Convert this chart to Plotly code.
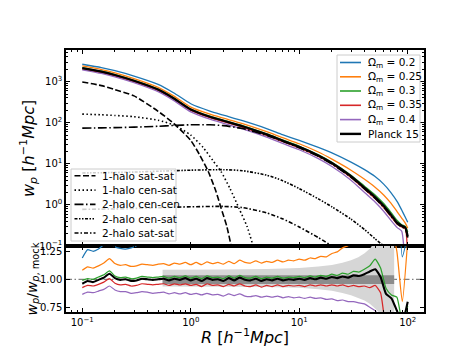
import plotly.graph_objects as go

# ---------------- data: top panel ----------------
R_top = [0.1, 0.15, 0.2, 0.3, 0.5, 0.7, 1.0, 1.5, 2.0, 3.0, 5.0, 7.0, 10, 15, 20, 30, 40, 50, 60, 70, 80, 88, 95, 100]
wp_om020 = [2650, 2200, 1850, 1370, 860, 530, 290, 192, 153, 112, 72, 51.5, 37, 25, 18.5, 11, 7.2, 4.9, 3.2, 2.0, 1.2, 0.75, 0.5, 0.38]
wp_om025 = [2410, 1970, 1640, 1190, 728, 445, 240, 161, 129, 95, 60.5, 43.2, 30.8, 19.4, 13, 7.0, 4.2, 2.7, 1.75, 1.1, 0.68, 0.48, 0.36, 0.27]
wp_om030 = [2200, 1790, 1485, 1075, 655, 400, 216, 144, 115, 84.5, 53.5, 38.2, 26.8, 16.5, 10.9, 5.3, 2.85, 1.75, 1.08, 0.66, 0.42, 0.33, 0.30, 0.22]
wp_om035 = [2060, 1670, 1385, 1000, 610, 372, 200, 133, 106, 77.5, 49, 35, 24.5, 15.1, 9.9, 4.65, 2.4, 1.42, 0.86, 0.52, 0.34, 0.29, 0.26, 0.04]
wp_om040 = [1940, 1580, 1310, 945, 570, 345, 184, 122, 97, 70.5, 44.5, 31.5, 22, 13.4, 8.6, 4.0, 2.0, 1.18, 0.70, 0.42, 0.28, 0.23, 0.04, 0.03]
wp_planck = [2140, 1750, 1450, 1050, 640, 390, 210, 140, 112, 82, 52, 37, 26, 16, 10.5, 5.0, 2.6, 1.55, 0.95, 0.58, 0.37, 0.31, 0.28, 0.17]

R_1h_ss = [0.1, 0.15, 0.2, 0.3, 0.5, 0.7, 1.0, 1.2, 1.45, 1.7, 1.9, 2.15, 2.4]
wp_1h_ss = [980, 800, 640, 450, 190, 95, 37, 17, 6.5, 2.2, 0.85, 0.3, 0.08]
R_1h_cs = [0.1, 0.15, 0.2, 0.3, 0.5, 0.7, 1.0, 1.3, 1.6, 1.9, 2.3, 2.8, 3.3, 3.8]
wp_1h_cs = [162, 156, 150, 140, 115, 88, 50, 25, 12, 6.5, 2.5, 0.8, 0.3, 0.09]
wp_2h_cc = [74, 75, 76, 78, 82, 86, 89, 89, 85, 72, 49, 35.5, 24.5, 15.2, 9.9, 4.7, 2.45, 1.45, 0.88, 0.54, 0.35, 0.29, 0.26, 0.16]
R_2h_cs = [0.1, 0.2, 0.3, 0.5, 1.0, 2.0, 3.0, 5.0, 7.0, 10, 15, 20, 30, 40, 50, 60, 70]
wp_2h_cs = [6.0, 6.15, 6.3, 6.6, 7.0, 7.2, 6.8, 5.3, 3.9, 2.5, 1.4, 0.9, 0.45, 0.25, 0.15, 0.1, 0.065]
R_2h_ss = [0.1, 0.2, 0.3, 0.5, 1.0, 2.0, 3.0, 5.0, 7.0, 10, 15, 20, 25]
wp_2h_ss = [0.78, 0.80, 0.82, 0.86, 0.90, 0.92, 0.86, 0.64, 0.46, 0.29, 0.16, 0.10, 0.065]

# ---------------- data: ratio panel ----------------
R_ratio = [0.100, 0.112, 0.126, 0.141, 0.158, 0.178, 0.200, 0.224, 0.251, 0.282,
           0.316, 0.355, 0.398, 0.447, 0.501, 0.562, 0.631, 0.708, 0.794, 0.891,
           1.00, 1.12, 1.26, 1.41, 1.58, 1.78, 2.00, 2.24, 2.51, 2.82,
           3.16, 3.55, 3.98, 4.47, 5.01, 5.62, 6.31, 7.08, 7.94, 8.91,
           10.0, 11.2, 12.6, 14.1, 15.8, 17.8, 20.0, 22.4, 25.1, 28.2,
           31.6, 35.5, 39.8, 44.7, 50.1, 56.2, 63.1, 70.8, 79.4, 89.1, 100.0]
ratio_om020 = [1.190, 1.265, 1.250, 1.270, 1.310, 1.360, 1.290, 1.275, 1.270, 1.280,
               1.300, 1.335, 1.360, 1.380, 1.400, 1.410, 1.400, 1.420, 1.410, 1.430,
               1.420, 1.430, 1.410, 1.430, 1.420, 1.420, 1.410, 1.430, 1.420, 1.440,
               1.420, 1.420, 1.430, 1.410, 1.430, 1.420, 1.430, 1.420, 1.430, 1.430,
               1.440, 1.450, 1.470, 1.500, 1.540, 1.580, 1.640, 1.700, 1.800, 1.900,
               2.000, 2.100, 2.200, 2.400, 2.500, 2.600, 2.700, 2.600, 2.000, 1.200, 1.400]
ratio_om025 = [1.080, 1.110, 1.100, 1.120, 1.145, 1.185, 1.140, 1.125, 1.130, 1.115,
               1.120, 1.135, 1.130, 1.125, 1.135, 1.140, 1.125, 1.145, 1.135, 1.150,
               1.130, 1.150, 1.130, 1.155, 1.140, 1.150, 1.135, 1.160, 1.140, 1.170,
               1.150, 1.145, 1.165, 1.145, 1.160, 1.150, 1.170, 1.155, 1.170, 1.165,
               1.180, 1.170, 1.190, 1.185, 1.205, 1.200, 1.230, 1.245, 1.280, 1.300,
               1.330, 1.350, 1.380, 1.420, 1.470, 1.500, 1.500, 1.450, 1.250, 0.800, 1.350]
ratio_om030 = [0.990, 1.005, 1.000, 1.020, 1.040, 1.075, 1.030, 1.015, 1.020, 1.005,
               1.010, 1.025, 1.020, 1.015, 1.020, 1.025, 1.010, 1.025, 1.015, 1.030,
               1.010, 1.025, 1.005, 1.030, 1.015, 1.020, 1.005, 1.030, 1.010, 1.035,
               1.015, 1.010, 1.025, 1.005, 1.020, 1.010, 1.025, 1.010, 1.020, 1.015,
               1.025, 1.015, 1.030, 1.020, 1.035, 1.025, 1.045, 1.035, 1.055, 1.045,
               1.070, 1.065, 1.090, 1.120, 1.180, 1.100, 0.920, 0.860, 0.840, 0.620, 0.760]
ratio_om035 = [0.925, 0.945, 0.940, 0.955, 0.975, 1.005, 0.965, 0.950, 0.955, 0.940,
               0.945, 0.960, 0.955, 0.950, 0.955, 0.960, 0.945, 0.960, 0.950, 0.960,
               0.945, 0.955, 0.935, 0.960, 0.945, 0.950, 0.935, 0.955, 0.940, 0.960,
               0.940, 0.935, 0.950, 0.930, 0.945, 0.935, 0.950, 0.935, 0.945, 0.940,
               0.945, 0.935, 0.950, 0.940, 0.950, 0.940, 0.950, 0.940, 0.950, 0.935,
               0.945, 0.935, 0.940, 0.925, 0.945, 0.880, 0.600, 0.600, 0.600, 0.600, 0.600]
ratio_om040 = [0.865, 0.885, 0.880, 0.895, 0.910, 0.940, 0.905, 0.890, 0.890, 0.875,
               0.880, 0.890, 0.885, 0.875, 0.880, 0.885, 0.870, 0.880, 0.870, 0.880,
               0.865, 0.875, 0.860, 0.875, 0.860, 0.865, 0.850, 0.870, 0.855, 0.870,
               0.850, 0.845, 0.855, 0.840, 0.850, 0.840, 0.850, 0.835, 0.845, 0.835,
               0.840, 0.830, 0.840, 0.830, 0.835, 0.820, 0.825, 0.810, 0.815, 0.800,
               0.800, 0.790, 0.780, 0.750, 0.720, 0.650, 0.600, 0.600, 0.600, 0.600, 0.600]
ratio_planck = [0.960, 0.985, 0.975, 0.995, 1.015, 1.050, 1.010, 0.995, 1.000, 0.985,
                0.990, 1.005, 1.000, 0.995, 1.000, 1.005, 0.990, 1.005, 0.995, 1.010,
                0.990, 1.005, 0.985, 1.010, 0.995, 1.000, 0.985, 1.010, 0.990, 1.015,
                0.995, 0.990, 1.005, 0.985, 1.000, 0.990, 1.005, 0.990, 1.000, 0.995,
                1.005, 0.995, 1.010, 1.000, 1.015, 1.005, 1.020, 1.010, 1.025, 1.015,
                1.035, 1.030, 1.045, 1.070, 1.090, 1.020, 0.870, 0.830, 0.720, 0.620, 0.800]

R_band = [0.55, 1.0, 2.0, 5.0, 10, 15, 20, 25, 30, 35, 40, 45, 50, 55, 60, 65, 70, 75]
band_outer_hi = [1.085, 1.085, 1.087, 1.092, 1.100, 1.113, 1.128, 1.147, 1.170, 1.197, 1.232, 1.275, 1.330, 1.400, 1.400, 1.400, 1.400, 1.400]
band_outer_lo = [0.935, 0.935, 0.933, 0.930, 0.924, 0.912, 0.897, 0.878, 0.857, 0.835, 0.810, 0.780, 0.740, 0.700, 0.650, 0.600, 0.600, 0.600]
band_inner_hi = [1.037, 1.037, 1.037, 1.037, 1.037, 1.037, 1.037, 1.037, 1.037, 1.037, 1.037, 1.037, 1.037, 1.037, 1.037, 1.037, 1.037, 1.037]
band_inner_lo = [0.958, 0.958, 0.958, 0.958, 0.958, 0.958, 0.958, 0.958, 0.958, 0.958, 0.958, 0.958, 0.958, 0.958, 0.958, 0.958, 0.958, 0.958]
REF_LEVEL = 1.0

labels_om = ["Ω<sub>m</sub> = 0.2", "Ω<sub>m</sub> = 0.25", "Ω<sub>m</sub> = 0.3",
             "Ω<sub>m</sub> = 0.35", "Ω<sub>m</sub> = 0.4", "Planck 15"]
colors = ["#1f77b4", "#ff7f0e", "#2ca02c", "#d62728", "#9467bd", "black"]
comp_labels = ["1-halo sat-sat", "1-halo cen-sat", "2-halo cen-cen", "2-halo cen-sat", "2-halo sat-sat"]
comp_dashes = ["6px,2.5px", "1.5px,2.5px", "9px,2.5px,1.5px,2.5px",
               "3px,1.5px,1.5px,1.5px,1.5px,1.5px", "4px,2px,1.5px,2px"]

FONT = "DejaVu Sans"
W, H = 463, 348
ML, MR, MT, MB = 58, 47, 42, 44
PW, PH = W - ML - MR, H - MT - MB


def px(xp):
    return (xp - ML) / PW


def py(yp):
    return (H - MB - yp) / PH


fig = go.Figure()

# bands (ratio panel)
fig.add_trace(go.Scatter(x=R_band + R_band[::-1], y=band_outer_hi + band_outer_lo[::-1],
                         fill="toself", fillcolor="rgb(214,214,214)", line=dict(width=0),
                         mode="lines", xaxis="x2", yaxis="y2", showlegend=False, hoverinfo="skip"))
fig.add_trace(go.Scatter(x=R_band + R_band[::-1], y=band_inner_hi + band_inner_lo[::-1],
                         fill="toself", fillcolor="rgb(140,140,140)", line=dict(width=0),
                         mode="lines", xaxis="x2", yaxis="y2", showlegend=False, hoverinfo="skip"))

top_series = [wp_om020, wp_om025, wp_om030, wp_om035, wp_om040, wp_planck]
ratio_series = [ratio_om020, ratio_om025, ratio_om030, ratio_om035, ratio_om040, ratio_planck]
widths = [1.3, 1.3, 1.3, 1.3, 1.3, 2.2]

for ys, lab, c, w in zip(top_series, labels_om, colors, widths):
    fig.add_trace(go.Scatter(x=R_top, y=ys, mode="lines", name=lab, showlegend=False,
                             line=dict(color=c, width=w, shape="spline", smoothing=0.6),
                             xaxis="x", yaxis="y"))

comp = [(R_1h_ss, wp_1h_ss), (R_1h_cs, wp_1h_cs), (R_top, wp_2h_cc), (R_2h_cs, wp_2h_cs), (R_2h_ss, wp_2h_ss)]
for (xs, ys), lab, dash in zip(comp, comp_labels, comp_dashes):
    fig.add_trace(go.Scatter(x=xs, y=ys, mode="lines", name=lab, showlegend=False,
                             line=dict(color="black", width=1.6, dash=dash, shape="spline", smoothing=0.6),
                             xaxis="x", yaxis="y"))

for ys, c, w in zip(ratio_series, colors, widths):
    fig.add_trace(go.Scatter(x=R_ratio, y=ys, mode="lines", showlegend=False,
                             line=dict(color=c, width=w * 0.95, shape="spline", smoothing=0.5),
                             xaxis="x2", yaxis="y2"))

fig.add_shape(type="line", xref="x2 domain", yref="y2", x0=0, x1=1, y0=REF_LEVEL, y1=REF_LEVEL,
              line=dict(color="gray", width=1.2, dash="6px,2.5px,1.5px,2.5px"), layer="below")


# ---------------- legends (drawn by hand for matplotlib-like compact rows) ----------------
def draw_legend(box, line_x, text_x, row_y, labels, cols, dashes, lws):
    x0, y0, x1, y1 = box
    fig.add_shape(type="rect", xref="paper", yref="paper", x0=px(x0), x1=px(x1), y0=py(y1), y1=py(y0),
                  fillcolor="rgba(255,255,255,0.8)", line=dict(color="#cccccc", width=1), layer="above")
    for yy, lab, c, d, lw in zip(row_y, labels, cols, dashes, lws):
        fig.add_shape(type="line", xref="paper", yref="paper", x0=px(line_x[0]), x1=px(line_x[1]),
                      y0=py(yy), y1=py(yy), line=dict(color=c, width=lw, dash=d), layer="above")
        fig.add_annotation(text=lab, xref="paper", yref="paper", x=px(text_x), y=py(yy),
                           xanchor="left", yanchor="middle", showarrow=False,
                           font=dict(family=FONT, size=10.5, color="black"))


draw_legend((329, 47, 412, 134), (332, 353), 358,
            [54.5, 68.8, 83.0, 97.3, 111.6, 125.9],
            labels_om, colors, ["solid"] * 6, [1.6, 1.6, 1.6, 1.6, 1.6, 2.4])
draw_legend((63, 161, 168, 233), (66.5, 87.5), 92,
            [167.8, 182.1, 196.4, 210.7, 225.0],
            comp_labels, ["black"] * 5, comp_dashes, [1.6] * 5)

SPLIT = 66 / 262
major_x = [0.1, 1, 10, 100]
minor_x = [m * d for d in [0.01, 0.1, 1, 10, 100] for m in range(2, 10)]
minor_y = [m * d for d in [0.1, 1, 10, 100, 1000] for m in range(2, 10)]


def sup(e):
    return "10<sup>" + e + "</sup>"


axis_common = dict(showline=True, linecolor="black", linewidth=1.5, mirror="allticks",
                   ticks="inside", ticklen=4, tickwidth=1, tickcolor="black",
                   showgrid=False, zeroline=False,
                   tickfont=dict(family=FONT, size=10, color="black"))
minor_common = dict(ticks="inside", ticklen=2, tickwidth=0.8, tickcolor="black", showgrid=False)

fig.update_layout(
    width=W, height=H,
    margin=dict(l=ML, r=MR, t=MT, b=MB),
    paper_bgcolor="white", plot_bgcolor="white",
    font=dict(family=FONT, size=10, color="black"),
    showlegend=False,
    xaxis=dict(type="log", range=[-1.15, 2.15], domain=[0, 1], anchor="y", matches="x2",
               tickmode="array", tickvals=major_x, showticklabels=False,
               minor=dict(tickmode="array", tickvals=minor_x, **minor_common), **axis_common),
    yaxis=dict(type="log", range=[-1, 3.77], domain=[SPLIT, 1], anchor="x",
               tickmode="array", tickvals=[0.1, 1, 10, 100, 1000],
               ticktext=[sup("−1"), sup("0"), sup("1"), sup("2"), sup("3")],
               minor=dict(tickmode="array", tickvals=minor_y, **minor_common), **axis_common),
    xaxis2=dict(type="log", range=[-1.15, 2.15], domain=[0, 1], anchor="y2",
                tickmode="array", tickvals=major_x,
                ticktext=[sup("−1"), sup("0"), sup("1"), sup("2")],
                minor=dict(tickmode="array", tickvals=minor_x, **minor_common), **axis_common),
    yaxis2=dict(range=[0.708, 1.297], domain=[0, SPLIT], anchor="x2",
                tickmode="array", tickvals=[0.75, 1.0, 1.25], ticktext=["0.75", "1.00", "1.25"],
                **axis_common),
)

fig.add_annotation(text="<i>w</i><sub><i>p</i></sub> [<i>h</i><sup>−1</sup><i>Mpc</i>]",
                   xref="paper", yref="paper", x=px(20), y=py(141),
                   textangle=-90, showarrow=False, xanchor="center", yanchor="middle",
                   font=dict(family=FONT, size=16, color="black"))
fig.add_annotation(text="<i>w</i><sub><i>p</i></sub>/<i>w</i><sub><i>p</i>, mock</sub>",
                   xref="paper", yref="paper", x=px(24), y=py(271.5),
                   textangle=-90, showarrow=False, xanchor="center", yanchor="middle",
                   font=dict(family=FONT, size=14, color="black"))
fig.add_annotation(text="<i>R</i> [<i>h</i><sup>−1</sup><i>Mpc</i>]",
                   xref="paper", yref="paper", x=px(237), y=py(328),
                   showarrow=False, xanchor="center", yanchor="middle",
                   font=dict(family=FONT, size=16, color="black"))

fig.write_html("out.html")
